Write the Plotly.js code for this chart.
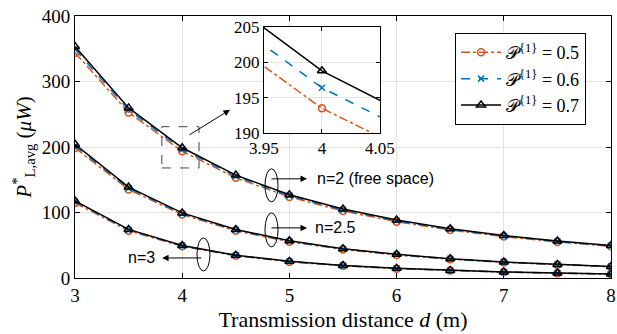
<!DOCTYPE html>
<html><head><meta charset="utf-8">
<script src="https://cdn.plot.ly/plotly-3.0.1.min.js"></script>
<style>html,body{margin:0;padding:0;background:#fff}#c{width:617px;height:334px}</style>
</head><body><div id="c"></div>
<script>
const d = [3,3.5,4,4.5,5,5.5,6,6.5,7,7.5,8];
// n = 2 (free space)
const n2_p05 = [344.0,252.7,193.5,152.9,123.8,102.3,86.0,73.3,63.2,55.0,48.4];
const n2_p06 = [349.2,256.5,196.4,155.2,125.7,103.9,87.3,74.4,64.1,55.9,49.1];
const n2_p07 = [353.4,259.7,198.8,157.1,127.2,105.2,88.4,75.3,64.9,56.5,49.7];
// n = 2.5
const n25_p05 = [198.6,135.1,96.8,72.1,55.4,43.6,35.1,28.7,23.9,20.1,17.1];
const n25_p06 = [201.6,137.1,98.2,73.2,56.2,44.3,35.6,29.2,24.2,20.4,17.4];
const n25_p07 = [204.1,138.8,99.4,74.1,56.9,44.8,36.1,29.5,24.5,20.6,17.6];
// n = 3
const n3_p05 = [114.7,72.2,48.4,34.0,24.8,18.6,14.3,11.3,9.0,7.3,6.0];
const n3_p06 = [116.4,73.3,49.1,34.5,25.1,18.9,14.5,11.5,9.2,7.4,6.1];
const n3_p07 = [117.8,74.2,49.7,34.9,25.4,19.1,14.7,11.6,9.3,7.5,6.2];
const legendNames = ['𝒫<sup>{1}</sup> = 0.5','𝒫<sup>{1}</sup> = 0.6','𝒫<sup>{1}</sup> = 0.7'];
const xTicks = [3,4,5,6,7,8];
const yTicks = [0,100,200,300,400];
const insetXTicks = [3.95,4,4.05];
const insetYTicks = [190,195,200,205];

const ORANGE='#D95319', BLUE='#0072BD', BLACK='#000000';
const styles = [
  {color:ORANGE, dash:'dashdot', symbol:'circle-open', size:7},
  {color:BLUE, dash:'dash', symbol:'x-thin-open', size:6},
  {color:BLACK, dash:'solid', symbol:'triangle-up-open', size:8}
];
const groups = [[n2_p05,n2_p06,n2_p07],[n25_p05,n25_p06,n25_p07],[n3_p05,n3_p06,n3_p07]];
const traces = [];
['x','x2'].forEach((xa,ai)=>{
  groups.forEach((g,gi)=>{
    g.forEach((ys,si)=>{
      const s = styles[si];
      traces.push({
        x:d, y:ys, xaxis:xa, yaxis: ai===0?'y':'y2',
        type:'scatter', mode:'lines+markers',
        name: legendNames[si],
        showlegend: ai===0 && gi===0,
        line:{color:s.color, dash:s.dash, width:1.5},
        marker:{symbol:s.symbol, size:s.size, color:s.color, line:{color:s.color, width:1.5}}
      });
    });
  });
});

const SERIF = 'Liberation Serif';
const SANS = 'Liberation Sans';
const tickFontMain = {family:SERIF, size:19, color:'#000'};
const tickFontInset = {family:SERIF, size:17, color:'#000'};
const layout = {
  width:617, height:334,
  font:{family:SERIF, size:19, color:'#000'},
  margin:{l:75, r:6, t:16, b:56},
  paper_bgcolor:'#fff', plot_bgcolor:'#fff',
  showlegend:true,
  legend:{x:0.709, y:0.935, xanchor:'left', yanchor:'top', bgcolor:'#fff',
    bordercolor:'#000', borderwidth:1, font:{family:SERIF, size:18, color:'#000'},
    itemwidth:40, tracegroupgap:0},
  xaxis:{range:[3,8], tickmode:'array', tickvals:xTicks, ticktext:xTicks.map(String), ticks:'inside', ticklen:5, tickcolor:'#000',
    showgrid:true, gridcolor:'#e3e3e3', gridwidth:1, zeroline:false,
    showline:true, linecolor:'#000', linewidth:1, mirror:'ticks',
    tickfont:tickFontMain,
    title:{text:'Transmission distance <i>d</i> (m)', font:{family:SERIF, size:22, color:'#000'}, standoff:6},
    domain:[0,1], anchor:'y'},
  yaxis:{range:[0,400], tickmode:'array', tickvals:yTicks, ticktext:yTicks.map(String), ticks:'inside', ticklen:5, tickcolor:'#000',
    showgrid:true, gridcolor:'#e3e3e3', gridwidth:1, zeroline:false,
    showline:true, linecolor:'#000', linewidth:1, mirror:'ticks',
    tickfont:tickFontMain,
    title:{text:'<i>P</i><sup>*</sup><sub>L,avg</sub> (<i>μW</i>)', font:{family:SERIF, size:21, color:'#000'}, standoff:4},
    domain:[0,1], anchor:'x'},
  xaxis2:{range:[3.95,4.05], tickmode:'array', tickvals:insetXTicks, ticktext:['3.95','4','4.05'], ticks:'inside', ticklen:4, tickcolor:'#000',
    showgrid:true, gridcolor:'#e3e3e3', zeroline:false,
    showline:true, linecolor:'#000', linewidth:1, mirror:'ticks',
    tickfont:tickFontInset,
    domain:[0.3526,0.569], anchor:'y2'},
  yaxis2:{range:[190,205], tickmode:'array', tickvals:insetYTicks, ticktext:insetYTicks.map(String), ticks:'inside', ticklen:4, tickcolor:'#000',
    showgrid:true, gridcolor:'#e3e3e3', zeroline:false,
    showline:true, linecolor:'#000', linewidth:1, mirror:'ticks',
    tickfont:tickFontInset,
    domain:[0.5534,0.958], anchor:'x2'},
  shapes:[
    {type:'rect', xref:'x', yref:'y', x0:3.81, x1:4.157, y0:168, y1:231, line:{color:'#444', width:1, dash:'dash'}},
    {type:'circle', xref:'x', yref:'y', x0:4.772, x1:4.894, y0:116.2, y1:166.7, line:{color:'#000', width:1}},
    {type:'circle', xref:'x', yref:'y', x0:4.772, x1:4.894, y0:47.4, y1:99.4, line:{color:'#000', width:1}},
    {type:'circle', xref:'x', yref:'y', x0:4.138, x1:4.259, y0:10.7, y1:61.2, line:{color:'#000', width:1}}
  ],
  annotations:[
    {xref:'x', yref:'y', axref:'x', ayref:'y', x:5.164, y:151.4, ax:4.819, ay:151.4, text:'', showarrow:true, arrowhead:2, arrowsize:1.3, arrowwidth:1, arrowcolor:'#000'},
    {xref:'x', yref:'y', x:5.239, y:151.4, xanchor:'left', yanchor:'middle', text:'n=2 (free space)', showarrow:false, font:{family:SANS, size:16, color:'#000'}},
    {xref:'x', yref:'y', axref:'x', ayref:'y', x:5.164, y:76.5, ax:4.819, ay:76.5, text:'', showarrow:true, arrowhead:2, arrowsize:1.3, arrowwidth:1, arrowcolor:'#000'},
    {xref:'x', yref:'y', x:5.22, y:76.5, xanchor:'left', yanchor:'middle', text:'n=2.5', showarrow:false, font:{family:SANS, size:16, color:'#000'}},
    {xref:'x', yref:'y', axref:'x', ayref:'y', x:3.812, y:30.6, ax:4.194, ay:30.6, text:'', showarrow:true, arrowhead:2, arrowsize:1.3, arrowwidth:1, arrowcolor:'#000'},
    {xref:'x', yref:'y', x:3.765, y:30.6, xanchor:'right', yanchor:'middle', text:'n=3', showarrow:false, font:{family:SANS, size:16, color:'#000'}},
    {xref:'x', yref:'y', axref:'x', ayref:'y', x:4.446, y:256.9, ax:4.054, ay:217.1, text:'', showarrow:true, arrowhead:2, arrowsize:1.3, arrowwidth:1, arrowcolor:'#000'}
  ]
};
Plotly.newPlot('c', traces, layout, {displayModeBar:false, staticPlot:true});
</script></body></html>
